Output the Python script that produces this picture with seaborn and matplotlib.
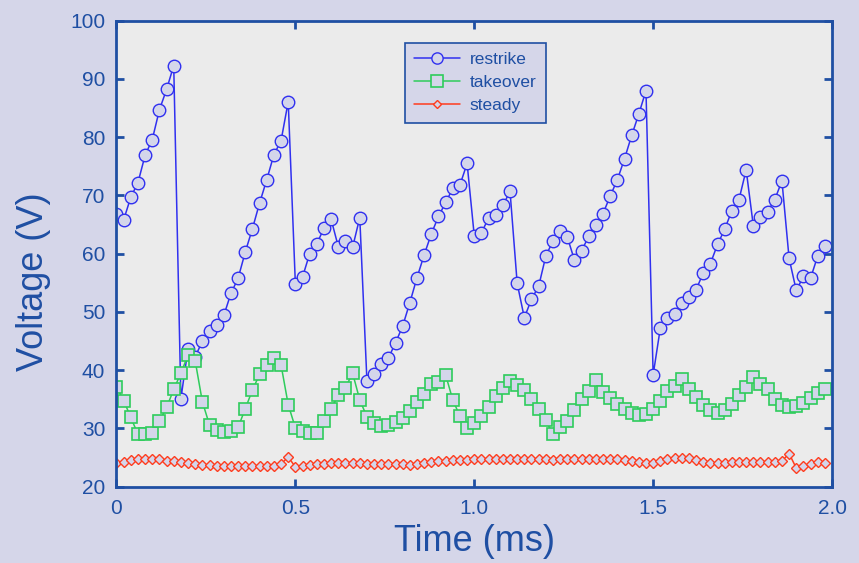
import numpy as np
import pandas as pd
import matplotlib
matplotlib.use("Agg")
import matplotlib.pyplot as plt
import seaborn as sns

time_ms = [round(i * 0.02, 2) for i in range(100)]

restrike = [66.8, 65.8, 69.7, 72.2, 76.9, 79.6, 84.7, 88.2, 92.3, 35.1,
            43.7, 42.3, 45.0, 46.8, 47.8, 49.4, 53.2, 55.8, 60.3, 64.3,
            68.7, 72.7, 77.0, 79.4, 86.1, 54.8, 56.0, 60.0, 61.7, 64.4,
            65.9, 61.2, 62.1, 61.1, 66.2, 38.2, 39.4, 41.1, 42.1, 44.7,
            47.6, 51.6, 55.9, 59.8, 63.4, 66.4, 68.8, 71.2, 71.8, 75.5,
            63.1, 63.6, 66.1, 66.7, 68.3, 70.7, 54.9, 49.0, 52.2, 54.4,
            59.6, 62.2, 63.9, 62.9, 58.9, 60.5, 63.0, 64.9, 66.9, 69.9,
            72.7, 76.3, 80.3, 84.0, 88.0, 39.2, 47.2, 48.9, 49.6, 51.6,
            52.5, 53.8, 56.7, 58.3, 61.6, 64.2, 67.4, 69.3, 74.4, 64.8,
            66.3, 67.2, 69.3, 72.5, 59.2, 53.7, 56.1, 55.8, 59.6, 61.4]

takeover = [37.2, 34.8, 31.9, 29.0, 29.0, 29.2, 31.2, 33.6, 36.7, 39.5,
            42.6, 41.6, 34.6, 30.6, 29.7, 29.4, 29.5, 30.2, 33.4, 36.6,
            39.3, 40.9, 42.1, 40.9, 34.1, 30.1, 29.6, 29.2, 29.2, 31.3,
            33.4, 35.7, 37.0, 39.5, 34.9, 32.0, 30.9, 30.5, 30.6, 31.1,
            31.8, 33.0, 34.5, 36.0, 37.7, 38.0, 39.2, 34.9, 32.1, 30.1,
            30.9, 32.1, 33.7, 35.6, 36.9, 38.2, 37.4, 36.6, 35.1, 33.3,
            31.4, 29.0, 30.2, 31.3, 33.2, 35.0, 36.4, 38.4, 36.3, 35.3,
            34.2, 33.3, 32.7, 32.3, 32.5, 33.4, 34.8, 36.4, 37.3, 38.5,
            36.8, 35.4, 34.0, 33.1, 32.7, 33.1, 34.2, 35.8, 37.2, 38.8,
            37.7, 36.8, 35.0, 34.1, 33.7, 33.8, 34.4, 35.2, 36.1, 36.8]

steady = [24.1, 24.2, 24.6, 24.8, 24.7, 24.8, 24.7, 24.5, 24.4, 24.2,
          24.1, 23.9, 23.8, 23.7, 23.6, 23.6, 23.6, 23.5, 23.5, 23.5,
          23.5, 23.5, 23.6, 23.9, 25.1, 23.4, 23.6, 23.8, 23.9, 23.9,
          24.1, 24.0, 24.0, 24.0, 24.0, 23.9, 23.9, 23.9, 23.9, 23.9,
          23.9, 23.7, 23.9, 24.1, 24.2, 24.4, 24.5, 24.6, 24.6, 24.6,
          24.7, 24.7, 24.8, 24.7, 24.7, 24.7, 24.7, 24.7, 24.7, 24.7,
          24.7, 24.6, 24.7, 24.75, 24.75, 24.8, 24.75, 24.75, 24.75, 24.75,
          24.7, 24.6, 24.5, 24.3, 24.1, 24.1, 24.4, 24.75, 24.9, 25.0,
          24.9, 24.6, 24.3, 24.1, 24.1, 24.0, 24.2, 24.3, 24.3, 24.3,
          24.3, 24.3, 24.3, 24.4, 25.7, 23.2, 23.5, 23.9, 24.2, 24.1]

series_names = ["restrike", "takeover", "steady"]
x_ticks = [0, 0.5, 1.0, 1.5, 2.0]
x_tick_labels = ["0", "0.5", "1.0", "1.5", "2.0"]
y_ticks = [20, 30, 40, 50, 60, 70, 80, 90, 100]

sns.set_theme(style="white")
plt.rcParams['font.family'] = ['Liberation Sans', 'DejaVu Sans']

BG = "#D5D6E9"
AX_BG = "#EBEBEB"
BLUE = "#1F4FA3"
FACE = "#D4D6EA"

fig = plt.figure(figsize=(8.59, 5.63), dpi=100, facecolor=BG)
ax = fig.add_axes([0.1356, 0.1355, 0.8330, 0.8277])
ax.set_facecolor(AX_BG)

df = pd.DataFrame({"t": time_ms * 3,
                   "v": restrike + takeover + steady,
                   "series": sum([[n] * len(time_ms) for n in series_names], [])})

styles = {
    "restrike": dict(color="#3030F0", marker="o", markersize=9.0, mew=1.0),
    "takeover": dict(color="#2ECC5C", marker="s", markersize=9.2, mew=1.2),
    "steady": dict(color="#FF3C1E", marker="D", markersize=4.6, mew=1.0),
}
for name in series_names:
    st = styles[name]
    sub = df[df["series"] == name]
    sns.lineplot(data=sub, x="t", y="v", ax=ax, color=st["color"],
                 marker=st["marker"], markersize=st["markersize"],
                 markeredgecolor=st["color"], markerfacecolor=FACE,
                 markeredgewidth=st["mew"], linewidth=1.1, label=name,
                 errorbar=None)

ax.set_xlim(0, 2.0)
ax.set_ylim(20, 100)
ax.set_xticks(x_ticks)
ax.set_xticklabels(x_tick_labels)
ax.set_yticks(y_ticks)

for sp in ax.spines.values():
    sp.set_color(BLUE)
    sp.set_linewidth(2.0)
    sp.set_visible(True)

ax.tick_params(axis="both", which="both", direction="in", length=6, width=2,
               color=BLUE, labelcolor=BLUE, labelsize=15,
               top=True, right=True, bottom=True, left=True)
ax.tick_params(axis="x", pad=9)
ax.tick_params(axis="y", pad=8)

ax.set_xlabel("Time (ms)", fontsize=26, color=BLUE)
ax.set_ylabel("Voltage (V)", fontsize=26, color=BLUE)
ax.xaxis.set_label_coords(0.5, -0.080)
ax.yaxis.set_label_coords(-0.092, 0.441)

leg = ax.legend(loc="upper left", bbox_to_anchor=(0.403, 0.953),
                frameon=True, fancybox=False, framealpha=1.0,
                facecolor=BG, edgecolor=BLUE, fontsize=12.5,
                handlelength=2.6, borderpad=0.55, labelspacing=0.45,
                handletextpad=0.6, borderaxespad=0.0)
leg.get_frame().set_linewidth(1.2)
for txt in leg.get_texts():
    txt.set_color(BLUE)
for h in leg.legend_handles:
    h.set_markersize(h.get_markersize() * 0.9)

fig.savefig("out.png", dpi=100, facecolor=BG)
